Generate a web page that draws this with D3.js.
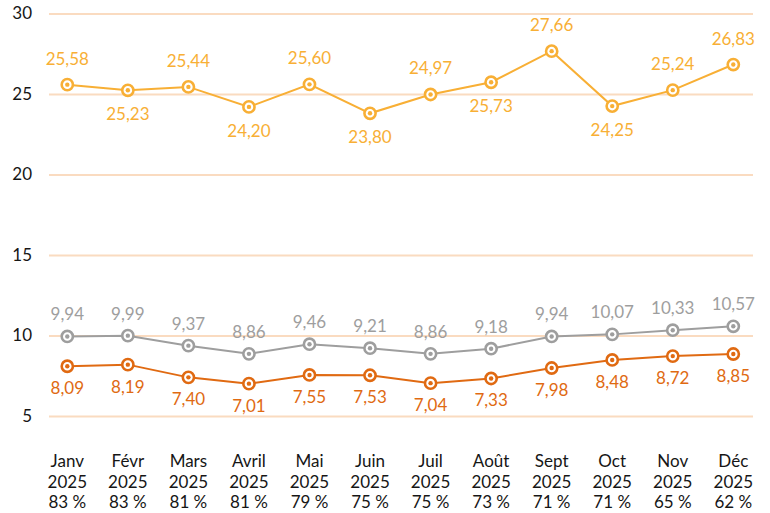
<!DOCTYPE html>
<html>
<head>
<meta charset="utf-8">
<script src="https://cdn.jsdelivr.net/npm/d3@7"></script>
<style>
  html, body { margin: 0; padding: 0; background: #fff; }
  svg { display: block; font-family: Lato, "Open Sans", sans-serif; }
</style>
</head>
<body>
<svg id="chart" width="770" height="513"></svg>
<script>
const months = ["Janv", "Févr", "Mars", "Avril", "Mai", "Juin", "Juil", "Août", "Sept", "Oct", "Nov", "Déc"];
const years = ["2025", "2025", "2025", "2025", "2025", "2025", "2025", "2025", "2025", "2025", "2025", "2025"];
const shares = ["83 %", "83 %", "81 %", "81 %", "79 %", "75 %", "75 %", "73 %", "71 %", "71 %", "65 %", "62 %"];
const yTicks = [5, 10, 15, 20, 25, 30];

const seriesTop = [25.58, 25.23, 25.44, 24.20, 25.60, 23.80, 24.97, 25.73, 27.66, 24.25, 25.24, 26.83];
const topLabelSide = ["above", "below", "above", "below", "above", "below", "above", "below", "above", "below", "above", "above"];
const seriesGray = [9.94, 9.99, 9.37, 8.86, 9.46, 9.21, 8.86, 9.18, 9.94, 10.07, 10.33, 10.57];
const seriesDark = [8.09, 8.19, 7.40, 7.01, 7.55, 7.53, 7.04, 7.33, 7.98, 8.48, 8.72, 8.85];

const series = [
  { values: seriesTop, color: "#F8AF35", sides: topLabelSide, above: -20, below: 30 },
  { values: seriesGray, color: "#9E9E9E", sides: months.map(() => "above"), above: -16, below: 28 },
  { values: seriesDark, color: "#E06A12", sides: months.map(() => "below"), above: -16, below: 28 }
];

const fr = d3.formatLocale({ decimal: ",", thousands: " ", grouping: [3], currency: ["", " €"] });
const fmt = fr.format(".2f");

const svg = d3.select("#chart");
const gridLeft = 49, gridRight = 753;

const x = d3.scalePoint().domain(months).range([67.3, 733.3]);
const y = d3.scaleLinear().domain([5, 30]).range([416, 13.5]);

// Y axis with gridlines
const yAxis = svg.append("g")
  .attr("transform", `translate(${gridLeft},0)`)
  .call(d3.axisLeft(y).tickValues(yTicks).tickSize(-(gridRight - gridLeft)).tickPadding(17).tickFormat(d3.format("d")));
yAxis.select(".domain").remove();
yAxis.selectAll(".tick line").attr("stroke", "#FADBC0").attr("stroke-width", 2);
yAxis.selectAll(".tick text")
  .attr("fill", "#161616")
  .style("font-size", "17px")
  .style("font-family", "Lato, sans-serif");

// X axis labels (three lines, separate texts)
const xRows = [
  { labels: months, y: 467 },
  { labels: years, y: 487.5 },
  { labels: shares, y: 508 }
];
const xAxis = svg.append("g").attr("class", "xlabels");
xRows.forEach(row => {
  xAxis.selectAll(null).data(row.labels).join("text")
    .attr("x", (d, i) => x(months[i]))
    .attr("y", row.y)
    .attr("text-anchor", "middle")
    .attr("fill", "#161616")
    .style("font-size", "17px")
    .text(d => d);
});

const line = d3.line().x((d, i) => x(months[i])).y(d => y(d));

series.forEach(s => {
  const g = svg.append("g");
  g.append("path")
    .datum(s.values)
    .attr("d", line)
    .attr("fill", "none")
    .attr("stroke", s.color)
    .attr("stroke-width", 2);

  const pts = g.selectAll("g.pt").data(s.values).join("g")
    .attr("class", "pt")
    .attr("transform", (d, i) => `translate(${x(months[i])},${y(d)})`);
  pts.append("circle").attr("r", 5.6).attr("fill", "#fff").attr("stroke", s.color).attr("stroke-width", 2.6);
  pts.append("circle").attr("r", 2.2).attr("fill", s.color);

  g.selectAll("text.val").data(s.values).join("text")
    .attr("class", "val")
    .attr("x", (d, i) => x(months[i]))
    .attr("y", (d, i) => y(d) + (s.sides[i] === "above" ? s.above : s.below))
    .attr("text-anchor", "middle")
    .attr("fill", s.color)
    .style("font-size", "17px")
    .text(d => fmt(d));
});
</script>
</body>
</html>
